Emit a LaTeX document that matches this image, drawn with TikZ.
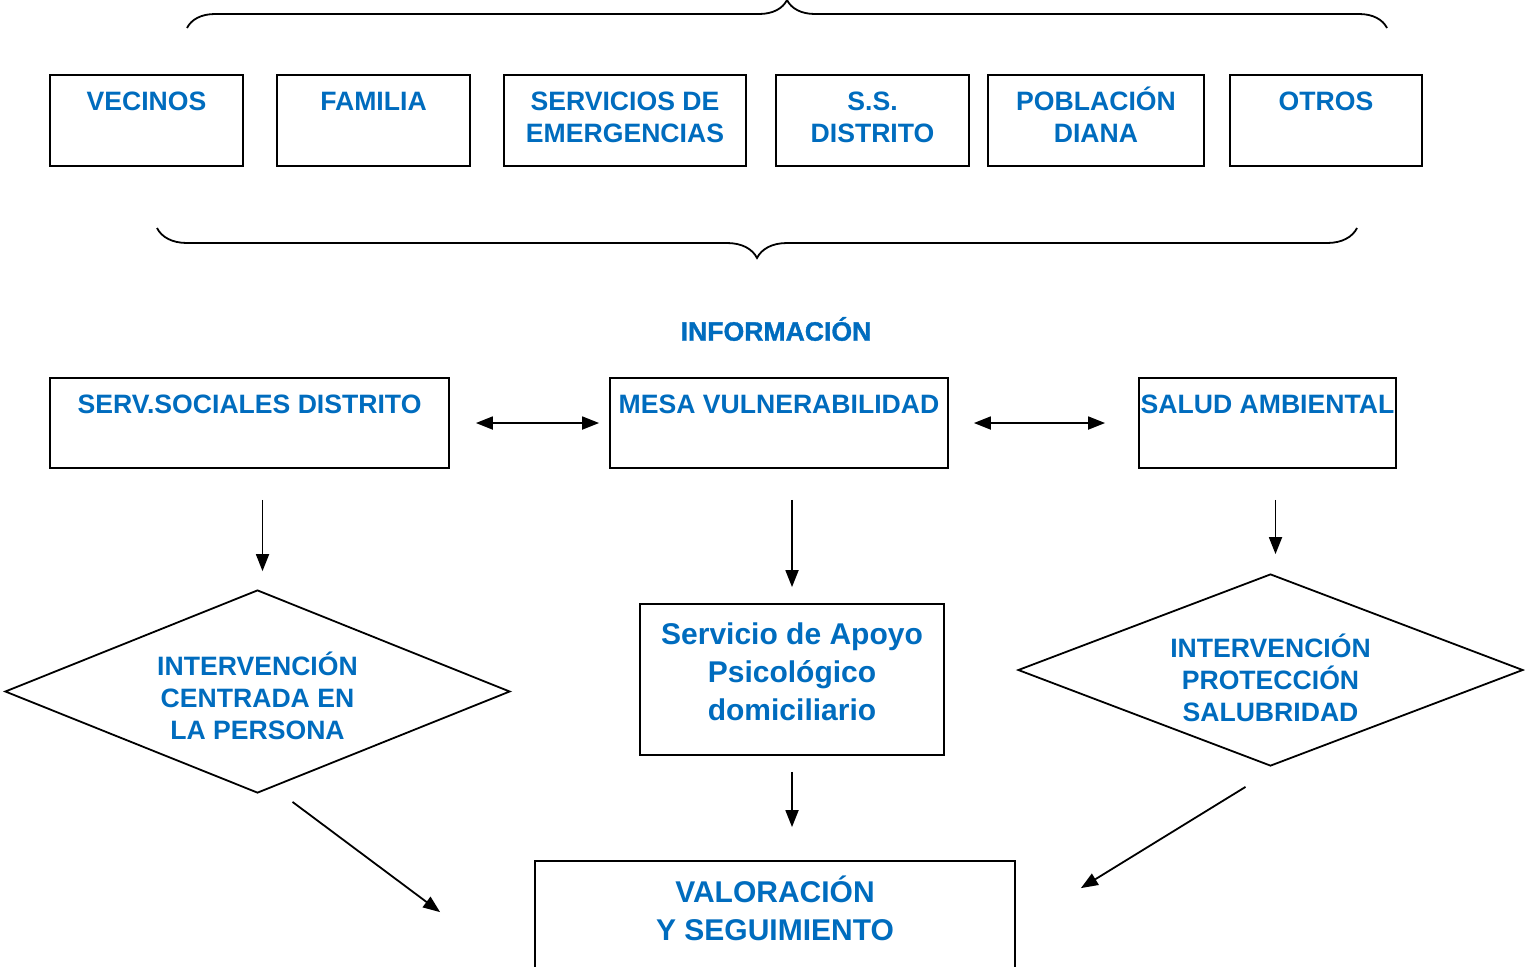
\documentclass[tikz,border=0pt]{standalone}
\usepackage{fontspec}
\setmainfont{Liberation Sans}
\newfontfamily\infofont{Liberation Sans Bold}[FakeBold=1.2]
\usetikzlibrary{shapes,arrows,positioning}
\usetikzlibrary{arrows.meta,decorations.pathreplacing}
\definecolor{azul}{RGB}{0,108,190}

\begin{document}
\begin{tikzpicture}[
  x=0.5pt, y=-0.5pt,
  caja/.style={draw, line width=0.9pt, inner sep=0pt},
  texto/.style={text=azul, align=center, inner sep=0pt,
    font=\bfseries\fontsize{13.3}{16}\selectfont},
  textog/.style={texto, font=\bfseries\fontsize{15}{19}\selectfont},
  rombo/.style={draw, diamond, line width=0.9pt, inner sep=0pt},
  flecha/.style={line width=0.9pt, -{Triangle[length=8.5pt,width=6.5pt]}},
  doble/.style={line width=0.9pt,
    {Triangle[length=8.5pt,width=6.5pt]}-{Triangle[length=8.5pt,width=6.5pt]}},
  llave/.style={decorate, line width=0.9pt, decoration={brace, amplitude=#1}},
]
\useasboundingbox (0,0) rectangle (1525,966);
\clip (0,0) rectangle (1525,966);

\draw[llave=14pt] (187,28) -- (1387,28);

\node[caja, minimum width=96.5pt, minimum height=45.5pt] (vecinos) at (146.5,120.5) {};
\node[caja, minimum width=96.5pt, minimum height=45.5pt] (familia) at (373.5,120.5) {};
\node[caja, minimum width=121pt, minimum height=45.5pt] (servicios) at (625,120.5) {};
\node[caja, minimum width=96.5pt, minimum height=45.5pt] (ssdistrito) at (872.5,120.5) {};
\node[caja, minimum width=108pt, minimum height=45.5pt] (poblacion) at (1096,120.5) {};
\node[caja, minimum width=96pt, minimum height=45.5pt] (otros) at (1326,120.5) {};
\node[texto, below=8.8pt of vecinos.north] (tvecinos) {VECINOS};
\node[texto, below=8.8pt of familia.north] (tfamilia) {FAMILIA};
\node[texto, below=8.8pt of servicios.north] (tservicios) {SERVICIOS DE\\EMERGENCIAS};
\node[texto, below=8.8pt of ssdistrito.north] (tssdistrito) {S.S.\\DISTRITO};
\node[texto, below=6.3pt of poblacion.north] (tpoblacion) {POBLACIÓN\\DIANA};
\node[texto, below=8.8pt of otros.north] (totros) {OTROS};

\draw[llave=15pt] (1357,228) -- (157,228);

\node[texto, font=\infofont\fontsize{13.3}{16}\selectfont] (info) at (776,329) {INFORMACIÓN};

\node[caja, minimum width=199.5pt, minimum height=45pt] (servsoc) at (249.5,423) {};
\node[caja, minimum width=169pt, minimum height=45pt] (mesa) at (779,423) {};
\node[caja, minimum width=128.5pt, minimum height=45pt] (salud) at (1267.5,423) {};
\node[texto, below=8.5pt of servsoc.north] (tservsoc) {SERV.SOCIALES DISTRITO};
\node[texto, below=8.5pt of mesa.north] (tmesa) {MESA VULNERABILIDAD};
\node[texto, below=8.5pt of salud.north] (tsalud) {SALUD AMBIENTAL};

\node[rombo, aspect=2.49, minimum width=252.5pt, minimum height=101.5pt] (intervL) at (257.5,691.5) {};
\node[texto] (tintervL) at ([yshift=-2pt]intervL.center) {INTERVENCIÓN\\CENTRADA EN\\LA PERSONA};
\node[caja, minimum width=152pt, minimum height=75.5pt] (apoyo) at (792,679.5) {};
\node[textog, below=9.5pt of apoyo.north] (tapoyo) {Servicio de Apoyo\\Psicológico\\domiciliario};
\node[rombo, aspect=2.63, minimum width=252.5pt, minimum height=96pt] (intervR) at (1270.5,670) {};
\node[texto] (tintervR) at ([yshift=-4pt]intervR.center) {INTERVENCIÓN\\PROTECCIÓN\\SALUBRIDAD};

\node[caja, minimum width=240pt, minimum height=74.5pt] (valor) at (775,935.5) {};
\node[textog, below=7.5pt of valor.north] (tvalor) {VALORACIÓN\\Y SEGUIMIENTO};

\draw[doble, shorten <=13pt, shorten >=5pt] (servsoc) -- (mesa);
\draw[doble, shorten <=12.5pt, shorten >=16.5pt] (mesa) -- (salud);
\draw[flecha, shorten <=15.5pt, shorten >=9pt]
  ([xshift=2.5pt]intervL.north |- servsoc.south) -- ([xshift=2.5pt]intervL.north);
\draw[flecha, shorten <=15.5pt, shorten >=8pt] (apoyo.north |- mesa.south) -- (apoyo.north);
\draw[flecha, shorten <=15.5pt, shorten >=9.5pt]
  ([xshift=2.5pt]intervR.north |- salud.south) -- ([xshift=2.5pt]intervR.north);
\draw[flecha, shorten <=8pt, shorten >=16.5pt] (apoyo.south) -- (apoyo.south |- valor.north);
\draw[flecha] ([shift={(35,8)}]intervL.south) -- ([shift={(-94,52)}]valor.north west);
\draw[flecha] ([shift={(-25,20)}]intervR.south) -- ([shift={(65,28)}]valor.north east);
\end{tikzpicture}
\end{document}
